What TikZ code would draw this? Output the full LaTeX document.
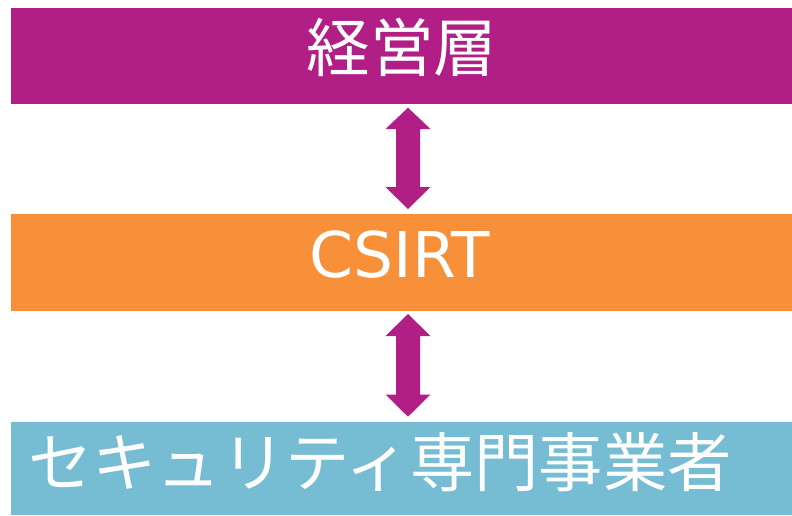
\documentclass[tikz,border=0pt]{standalone}
\usepackage{fontspec}
\newfontfamily\jpfont{Noto Sans CJK JP}
\newfontfamily\latfont{DejaVu Sans}
\definecolor{magbar}{RGB}{176,30,134}
\definecolor{orabar}{RGB}{247,144,57}
\definecolor{bluebar}{RGB}{118,188,210}
\tikzset{
  barbox/.style={draw=none, inner sep=0pt, minimum width=781pt},
  bartext/.style={text=white, inner sep=0pt, anchor=base},
  dblarrow/.style={fill=magbar, draw=none}
}
\begin{document}
\begin{tikzpicture}[x=1pt,y=-1pt]
\useasboundingbox (0,0) rectangle (792,515);
\node[barbox, fill=magbar, minimum height=96pt] (top) at (401.5,56) {};
\node[barbox, fill=orabar, minimum height=96.7pt] (mid) at (401.5,262.3) {};
\node[barbox, fill=bluebar, minimum height=93pt] (bot) at (401.5,468.5) {};
\node[bartext, font=\jpfont\fontsize{63.5}{70}\selectfont] (toptxt) at (402,71) {経営層};
\node[bartext, font=\latfont\fontsize{63}{70}\selectfont] (midtxt) at (400,277) {CSIRT};
\node[bartext, font=\jpfont\fontsize{64.3}{70}\selectfont] (bottxt) at (380,486) {セキュリティ専門事業者};
% double arrows between bars
\fill[dblarrow] (408,107.7) -- (430.5,129) -- (420,129) -- (420,187) -- (430.5,187)
  -- (408,209) -- (385.5,187) -- (396,187) -- (396,129) -- (385.5,129) -- cycle;
\fill[dblarrow] (408,314) -- (430.5,336) -- (420,336) -- (420,394.5) -- (430.5,394.5)
  -- (408,416.7) -- (385.5,394.5) -- (396,394.5) -- (396,336) -- (385.5,336) -- cycle;
\end{tikzpicture}
\end{document}
